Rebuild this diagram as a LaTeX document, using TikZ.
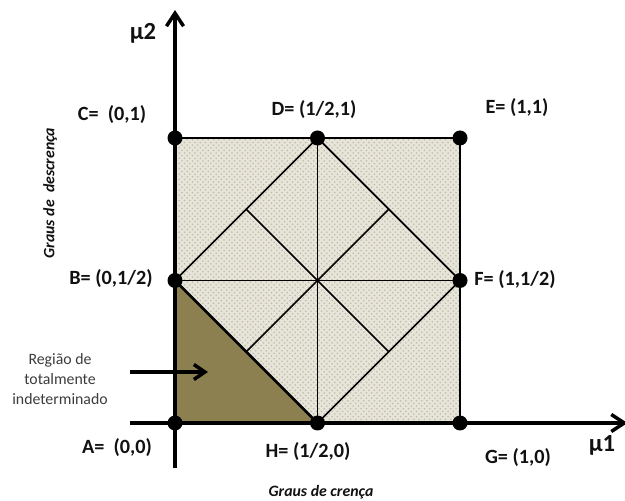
\documentclass[tikz,border=0pt]{standalone}
\usepackage{fontspec}
\setmainfont{Carlito}
\usetikzlibrary{arrows.meta,calc,patterns}
\definecolor{gdolive}{HTML}{8C7F50}
\definecolor{gdbeige}{HTML}{E7E5D9}
\definecolor{gddot}{HTML}{BDBAA8}
\definecolor{gdtext}{HTML}{111111}
\definecolor{gdgray}{HTML}{3C3C3C}
\tikzset{
  axis/.style={-{Straight Barb[length=2.6mm,width=3.4mm]},line width=2pt,draw=black},
  frame/.style={line width=1.6pt,draw=black},
  inner/.style={line width=1pt,draw=black},
  vertex/.style={circle,fill=black,inner sep=0pt,minimum size=3mm},
  ptlabel/.style={font=\fontsize{11.5}{13}\selectfont\bfseries,text=gdtext},
  axlabel/.style={font=\fontsize{14}{16}\selectfont\bfseries,text=gdtext},
  capt/.style={font=\fontsize{9}{10}\selectfont\bfseries\itshape,text=gdtext},
  note/.style={font=\fontsize{9}{11.5}\selectfont,text=gdgray,align=center},
}

\begin{document}
\begin{tikzpicture}
  \useasboundingbox (-3.5,-1.56) rectangle (9.0,8.46);

  % ---------------- corners and midpoints ----------------
  \coordinate (a) at (0,0);
  \coordinate (b) at (0,2.85);
  \coordinate (c) at (0,5.7);
  \coordinate (d) at (2.85,5.7);
  \coordinate (e) at (5.7,5.7);
  \coordinate (f) at (5.7,2.85);
  \coordinate (g) at (5.7,0);
  \coordinate (h) at (2.85,0);

  % ---------------- fills ----------------
  \fill[gdbeige] (a) rectangle (e);
  \fill[pattern=crosshatch dots,pattern color=gddot] (a) rectangle (e);
  \fill[gdolive] (a) -- (b) -- (h) -- cycle;

  % ---------------- inner lines ----------------
  \draw[inner] (b) -- (f);
  \draw[inner] (d) -- (h);
  \draw[inner] ($(b)!.5!(h)$) -- ($(d)!.5!(f)$);
  \draw[inner] ($(b)!.5!(d)$) -- ($(h)!.5!(f)$);
  \draw[inner] (b) -- (d) -- (f) -- (h);
  \draw[frame] (h) -- (b);
  \draw[frame] (c) -- (e) -- (g);

  % ---------------- axes ----------------
  \coordinate (yfoot) at (0,-0.9);
  \coordinate (ytip) at (0,8.26);
  \coordinate (xfoot) at (-0.9,0);
  \coordinate (xtip) at (9.05,0);
  \draw[axis] (yfoot) -- (ytip);
  \draw[axis] (xfoot) -- (xtip);

  % ---------------- vertices ----------------
  \foreach \p in {a,b,c,d,e,f,g,h}
    \node[vertex] (v\p) at (\p) {};

  % ---------------- labels ----------------
  \node[ptlabel] (la) at (-1.16,-0.5) {A=\ \ (0,0)};
  \node[ptlabel] (lb) at (-1.28,2.88) {B= (0,1/2)};
  \node[ptlabel] (lc) at (-1.26,6.16) {C=\ \ (0,1)};
  \node[ptlabel] (ld) at (2.78,6.26) {D= (1/2,1)};
  \node[ptlabel] (le) at (6.84,6.3) {E= (1,1)};
  \node[ptlabel] (lf) at (6.8,2.86) {F= (1,1/2)};
  \node[ptlabel] (lg) at (6.86,-0.7) {G= (1,0)};
  \node[ptlabel] (lh) at (2.66,-0.58) {H= (1/2,0)};
  \node[axlabel] (mu1) at (8.54,-0.44) {µ1};
  \node[axlabel] (mu2) at (-0.64,7.8) {µ2};
  \node[capt] (cx) at (2.92,-1.38) {Graus de crença};
  \node[capt,rotate=90] (cy) at (-2.5,4.6) {Graus de\ \ descrença};

  % region note + arrow
  \node[note] (reg) at (-2.3,0.88) {Região de\\totalmente\\indeterminado};
  \coordinate (rtail) at (-0.9,1.02);
  \coordinate (rhead) at (0.66,1.02);
  \draw[-{Straight Barb[length=2.2mm,width=3mm]},line width=2pt] (rtail) -- (rhead);
\end{tikzpicture}
\end{document}
